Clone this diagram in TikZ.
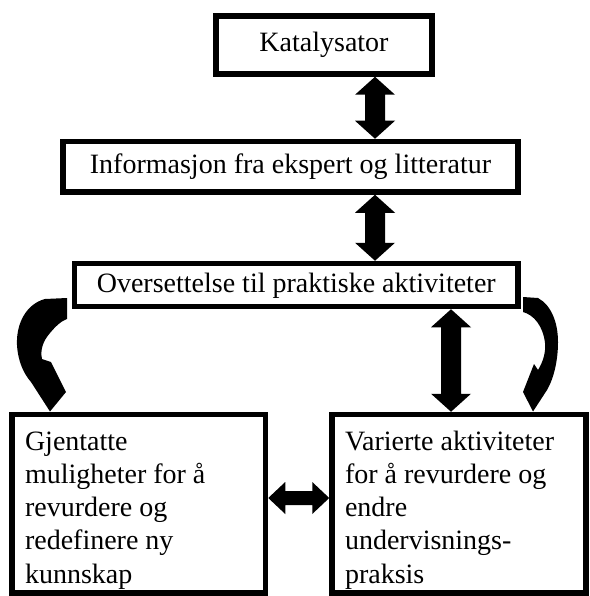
\documentclass[tikz,border=0pt]{standalone}
\usepackage{fontspec}
\setmainfont{Liberation Serif}
\usetikzlibrary{calc}
\tikzset{
  box/.style={draw, line width=5.5pt, inner sep=0pt, fill=white,
    font=\fontsize{28}{33.3}\selectfont},
  toptext/.style={text height=20pt, text depth=6pt},
  blockfill/.style={fill=black}
}
\newcommand\vblock[2]{%
  \fill[blockfill] let \p1=(#1), \p2=(#2) in
    (\x1,\y1) -- (\x1+20pt,\y1-18pt) -- (\x1+10pt,\y1-18pt) -- (\x1+10pt,\y2+18pt)
    -- (\x1+20pt,\y2+18pt) -- (\x1,\y2) -- (\x1-20pt,\y2+18pt) -- (\x1-10pt,\y2+18pt)
    -- (\x1-10pt,\y1-18pt) -- (\x1-20pt,\y1-18pt) -- cycle;}
\newcommand\hblock[2]{%
  \fill[blockfill] let \p1=(#1), \p2=(#2) in
    (\x1,\y1) -- (\x1+17pt,\y1+16pt) -- (\x1+17pt,\y1+7pt) -- (\x2-17pt,\y1+7pt)
    -- (\x2-17pt,\y1+16pt) -- (\x2,\y1) -- (\x2-17pt,\y1-16pt) -- (\x2-17pt,\y1-7pt)
    -- (\x1+17pt,\y1-7pt) -- (\x1+17pt,\y1-16pt) -- cycle;}
\begin{document}
\begin{tikzpicture}[x=1pt, y=-1pt]
\useasboundingbox (0,0) rectangle (589,596);

\node[box, toptext, minimum width=216pt, minimum height=58pt] (k) at (324,45) {Katalysator};
\node[box, toptext, minimum width=455pt, minimum height=50.5pt] (info) at (290.5,166.75) {Informasjon fra ekspert og litteratur};
\node[box, toptext, minimum width=443.5pt, minimum height=43pt] (over) at (296.25,285) {Oversettelse til praktiske aktiviteter};

\node[box, inner xsep=13pt, inner ysep=0pt] (gj) at (138.75,503.75)
  {\parbox[c][178.5pt][t]{227.5pt}{\rule{0pt}{35.5pt}Gjentatte\\
   muligheter for å\\ revurdere og\\ redefinere ny\\ kunnskap}};
\node[box, inner xsep=13pt, inner ysep=0pt] (var) at (459,503.75)
  {\parbox[c][178.5pt][t]{228pt}{\rule{0pt}{35.5pt}Varierte aktiviteter\\
   for å revurdere og\\ endre\\ undervisnings-\\ praksis}};

\coordinate (c1) at (375,0);
\coordinate (c2) at (451,0);
\coordinate (c3) at (0,498);

\vblock{k.south -| c1}{info.north -| c1}
\vblock{info.south -| c1}{over.north -| c1}
\vblock{over.south -| c2}{var.north -| c2}
\hblock{gj.east |- c3}{var.west |- c3}

% curved arrow to the left box
\fill[blockfill] (45,299) .. controls (26,304) and (16,324) .. (17,345)
  .. controls (18,362) and (24,374) .. (31,382) -- (50,411.5) -- (66,392) -- (51,362)
  -- (42,359) .. controls (40,350) and (43,341) .. (50,333)
  .. controls (55,327) and (61,321) .. (67,319) -- (67,298) -- cycle;

% curved arrow to the right box
\fill[blockfill] (523,297) -- (538,298) .. controls (551,305) and (558,322) .. (558,342)
  .. controls (558,360) and (554,378) .. (547,390) -- (533,411.5) -- (523,392) -- (534,364)
  -- (538,370) .. controls (543,362) and (546,352) .. (545,343)
  .. controls (543,326) and (534,315) .. (523,312) -- cycle;
\end{tikzpicture}
\end{document}
